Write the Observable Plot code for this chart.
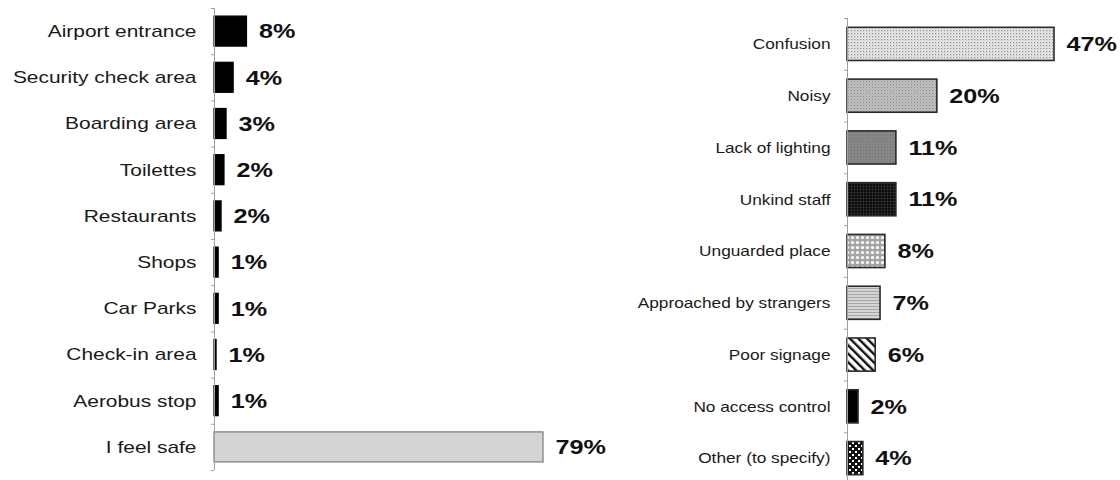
<!DOCTYPE html>
<html>
<head>
<meta charset="utf-8">
<script src="https://cdn.jsdelivr.net/npm/d3@7"></script>
<script src="https://cdn.jsdelivr.net/npm/@observablehq/plot@0.6"></script>
<style>
  html, body { margin: 0; padding: 0; background: #fff; }
  #wrap { position: relative; width: 1120px; height: 480px; overflow: hidden; }
  #left { position: absolute; left: 0; top: 0; }
  #right { position: absolute; left: 620px; top: 0; }
</style>
</head>
<body>
<svg width="0" height="0" style="position:absolute">
  <defs>
    <pattern id="p-confusion" width="3" height="3" patternUnits="userSpaceOnUse">
      <rect width="3" height="3" fill="#ececec"/>
      <rect x="0" y="0" width="1.2" height="1.2" fill="#8a8a8a"/>
      <rect x="1.5" y="1.5" width="1" height="1" fill="#b0b0b0"/>
    </pattern>
    <pattern id="p-noisy" width="3" height="3" patternUnits="userSpaceOnUse">
      <rect width="3" height="3" fill="#c0c0c0"/>
      <rect x="0" y="0" width="1" height="1" fill="#8c8c8c"/>
      <rect x="1.5" y="1.5" width="1" height="1" fill="#9c9c9c"/>
    </pattern>
    <pattern id="p-lighting" width="3" height="3" patternUnits="userSpaceOnUse">
      <rect width="3" height="3" fill="#868686"/>
      <rect x="0" y="0" width="1" height="1" fill="#747474"/>
    </pattern>
    <pattern id="p-staff" width="3" height="3" patternUnits="userSpaceOnUse">
      <rect width="3" height="3" fill="#0c0c0c"/>
      <rect x="0" y="0" width="3" height="0.6" fill="#333"/>
      <rect x="0" y="0" width="0.6" height="3" fill="#333"/>
    </pattern>
    <pattern id="p-unguarded" width="5" height="5" patternUnits="userSpaceOnUse">
      <rect width="5" height="5" fill="#a4a4a4"/>
      <circle cx="2.5" cy="2.5" r="1.6" fill="#fff"/>
    </pattern>
    <pattern id="p-strangers" width="4" height="3" patternUnits="userSpaceOnUse">
      <rect width="4" height="3" fill="#d6d6d6"/>
      <rect x="0" y="0" width="4" height="1" fill="#a6a6a6"/>
    </pattern>
    <pattern id="p-signage" width="6" height="6" patternUnits="userSpaceOnUse" patternTransform="rotate(-45)">
      <rect width="6" height="6" fill="#fff"/>
      <rect x="0" y="0" width="2.4" height="6" fill="#111"/>
    </pattern>
    <pattern id="p-other" width="6" height="6" patternUnits="userSpaceOnUse">
      <rect width="6" height="6" fill="#111"/>
      <rect x="1" y="1" width="2" height="2" fill="#fff"/>
      <rect x="4" y="4" width="2" height="2" fill="#fff"/>
    </pattern>
  </defs>
</svg>
<div id="wrap">
  <div id="left"></div>
  <div id="right"></div>
</div>
<script>
// ---- Data: left chart (where do you feel unsafe) ----
const leftCategories = ["Airport entrance", "Security check area", "Boarding area", "Toilettes", "Restaurants", "Shops", "Car Parks", "Check-in area", "Aerobus stop", "I feel safe"];
const leftValues = [7.8, 4.6, 2.9, 2.4, 1.7, 1.0, 1.0, 0.5, 1.0, 79];
const leftLabels = ["8%", "4%", "3%", "2%", "2%", "1%", "1%", "1%", "1%", "79%"];

// ---- Data: right chart (reasons) ----
const rightCategories = ["Confusion", "Noisy", "Lack of lighting", "Unkind staff", "Unguarded place", "Approached by strangers", "Poor signage", "No access control", "Other (to specify)"];
const rightValues = [47, 20.4, 11.1, 11.1, 8.6, 7.5, 6.4, 2.5, 3.6];
const rightLabels = ["47%", "20%", "11%", "11%", "8%", "7%", "6%", "2%", "4%"];

// styles (fills) used for the bars
const leftFills = ["#000", "#000", "#000", "#000", "#000", "#000", "#000", "#000", "#000", "#d4d4d4"];
const leftStrokes = ["#000", "#000", "#000", "#000", "#000", "#000", "#000", "#000", "#000", "#7a7a7a"];
const rightFills = ["url(#p-confusion)", "url(#p-noisy)", "url(#p-lighting)", "url(#p-staff)", "url(#p-unguarded)", "url(#p-strangers)", "url(#p-signage)", "#000", "url(#p-other)"];

const leftData = leftCategories.map((c, i) => ({category: c, value: leftValues[i], label: leftLabels[i], fill: leftFills[i], stroke: leftStrokes[i]}));
const rightData = rightCategories.map((c, i) => ({category: c, value: rightValues[i], label: rightLabels[i], fill: rightFills[i]}));

const font = "'Liberation Sans', Arial, Helvetica, sans-serif";

// Left chart
const L = {width: 620, height: 480, top: 8, bottom: 10, left: 214, right: 77};
const leftStep = (L.height - L.top - L.bottom) / leftCategories.length;
const leftChart = Plot.plot({
  width: L.width, height: L.height,
  marginLeft: L.left, marginRight: L.right, marginTop: L.top, marginBottom: L.bottom,
  style: {fontFamily: font, background: "transparent", overflow: "visible"},
  x: {domain: [0, 79], axis: null},
  y: {domain: leftCategories, paddingInner: 0.35, paddingOuter: 0.175, round: false},
  color: {type: "identity"},
  marks: [
    Plot.barX(leftData, {y: "category", x: "value", fill: "fill", stroke: "stroke", strokeWidth: 1.2}),
    Plot.ruleX([0], {stroke: "#a0a0a0", strokeWidth: 1}),
    Plot.ruleY(leftCategories, {y: d => d, x1: -0.7, x2: 0, dy: -leftStep / 2, stroke: "#a0a0a0"}),
    Plot.ruleY(leftCategories.slice(-1), {y: d => d, x1: -0.7, x2: 0, dy: leftStep / 2, stroke: "#a0a0a0"}),
    Plot.axisY({tickSize: 0, tickPadding: 18, fontSize: 17, fill: "#1a1a1a", label: null}),
    Plot.text(leftData, {y: "category", x: "value", text: "label", dx: 12, textAnchor: "start", fontSize: 21, fontWeight: "bold", fill: "#111"})
  ]
});
document.getElementById("left").appendChild(leftChart);

// Right chart (its frame runs slightly past the bottom of the picture, as in the reference)
const R = {width: 500, height: 484, top: 18, bottom: 0, left: 227, right: 66};
const rightStep = (R.height - R.top - R.bottom) / rightCategories.length;
const rightChart = Plot.plot({
  width: R.width, height: R.height,
  marginLeft: R.left, marginRight: R.right, marginTop: R.top, marginBottom: R.bottom,
  style: {fontFamily: font, background: "transparent", overflow: "visible"},
  x: {domain: [0, 47], axis: null},
  y: {domain: rightCategories, paddingInner: 0.36, paddingOuter: 0.18, round: false},
  color: {type: "identity"},
  marks: [
    Plot.barX(rightData, {y: "category", x: "value", fill: "fill", stroke: "#2a2a2a", strokeWidth: 1.6}),
    Plot.ruleX([0], {stroke: "#a0a0a0", strokeWidth: 1}),
    Plot.ruleY(rightCategories, {y: d => d, x1: -0.7, x2: 0, dy: -rightStep / 2, stroke: "#a0a0a0"}),
    Plot.axisY({tickSize: 0, tickPadding: 17, fontSize: 15, fill: "#1a1a1a", label: null}),
    Plot.text(rightData, {y: "category", x: "value", text: "label", dx: 12, textAnchor: "start", fontSize: 21, fontWeight: "bold", fill: "#111"})
  ]
});
document.getElementById("right").appendChild(rightChart);

// widen the glyphs horizontally, as in the reference (which is stretched)
function stretch(svg, selector, factor) {
  svg.querySelectorAll(selector).forEach(t => {
    const w = t.getComputedTextLength();
    if (w > 0) {
      t.setAttribute("textLength", (w * factor).toFixed(1));
      t.setAttribute("lengthAdjust", "spacingAndGlyphs");
    }
  });
}
stretch(leftChart, 'g[aria-label="y-axis tick label"] text', 1.23);
stretch(leftChart, 'g[aria-label="text"] text', 1.2);
stretch(rightChart, 'g[aria-label="y-axis tick label"] text', 1.15);
stretch(rightChart, 'g[aria-label="text"] text', 1.2);
</script>
</body>
</html>
